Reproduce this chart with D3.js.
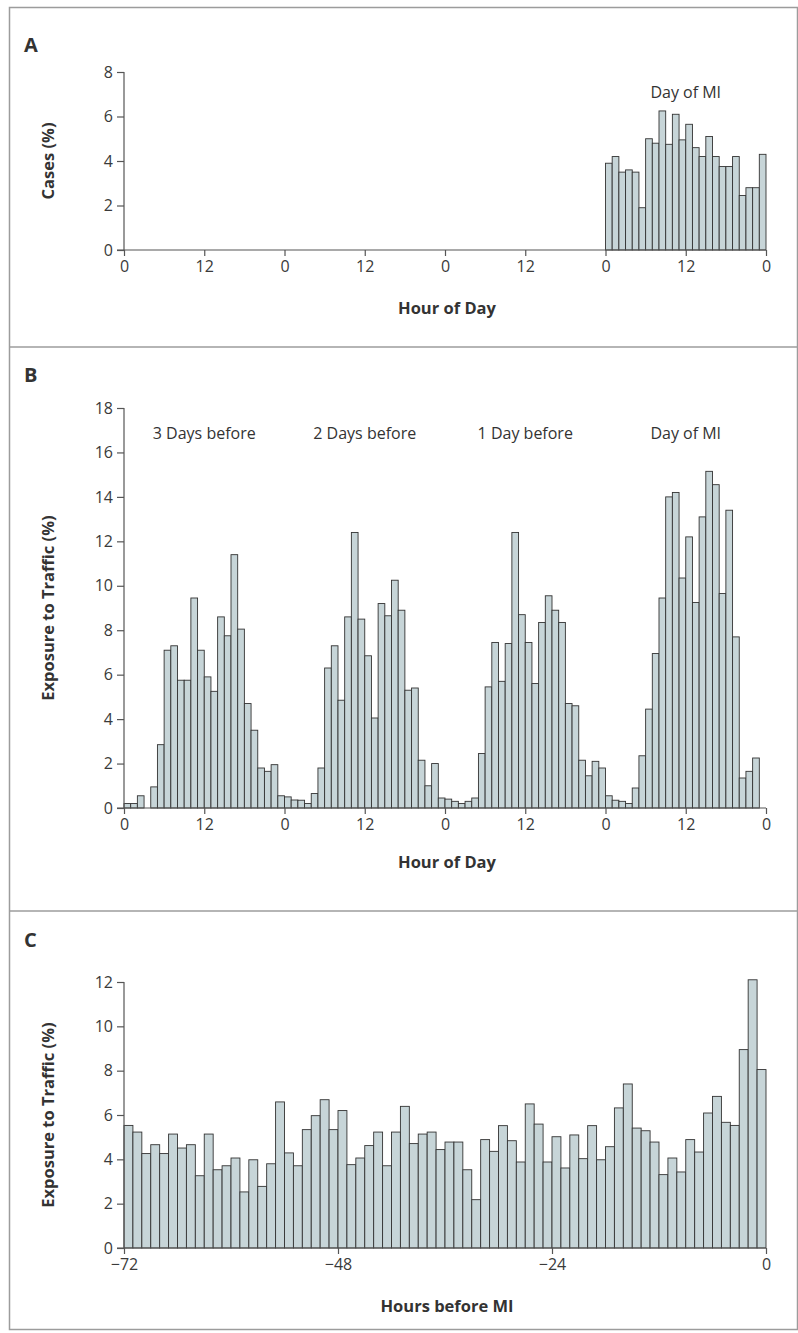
<!DOCTYPE html>
<html>
<head>
<meta charset="utf-8">
<script src="https://cdn.jsdelivr.net/npm/d3@7"></script>
<style>
  body { margin: 0; background: #fff; }
  text { font-family: "Open Sans", "Noto Sans", sans-serif; fill: #333; }
  .axis path, .axis line { stroke: #555; stroke-width: 1.2; }
  .axis text { font-size: 16px; fill: #3a3a3a; }
</style>
</head>
<body>
<div id="chart"></div>
<script>
// data (percent per hour)
var casesDayOfMI = [3.9, 4.2, 3.5, 3.6, 3.5, 1.9, 5.0, 4.8, 6.25, 4.75, 6.1, 4.95, 5.65, 4.6, 4.2, 5.1, 4.2, 3.75, 3.75, 4.2, 2.45, 2.8, 2.8, 4.3];

var exposure3DaysBefore = [0.2, 0.2, 0.55, 0, 0.95, 2.85, 7.1, 7.3, 5.75, 5.75, 9.45, 7.1, 5.9, 5.25, 8.6, 7.75, 11.4, 8.05, 4.7, 3.5, 1.8, 1.65, 1.95, 0.55];
var exposure2DaysBefore = [0.5, 0.36, 0.35, 0.2, 0.65, 1.8, 6.3, 7.3, 4.85, 8.6, 12.4, 8.5, 6.85, 4.05, 9.2, 8.65, 10.25, 8.9, 5.3, 5.4, 2.15, 1.0, 2.0, 0.45];
var exposure1DayBefore = [0.4, 0.3, 0.2, 0.3, 0.45, 2.45, 5.45, 7.45, 5.7, 7.4, 12.4, 8.7, 7.45, 5.6, 8.35, 9.55, 8.9, 8.35, 4.7, 4.6, 2.15, 1.45, 2.1, 1.8];
var exposureDayOfMI = [0.55, 0.35, 0.3, 0.2, 0.9, 2.35, 4.45, 6.95, 9.45, 14.0, 14.2, 10.35, 12.2, 9.25, 13.1, 15.15, 14.55, 9.65, 13.4, 7.7, 1.35, 1.65, 2.25, 0];

// hours -72 .. -1 before MI
var exposureBeforeMI = [5.53, 5.23, 4.26, 4.66, 4.26, 5.14, 4.51, 4.66, 3.26, 5.14,
  3.53, 3.71, 4.06, 2.53, 3.98, 2.78, 3.8, 6.59, 4.29, 3.71,
  5.34, 5.97, 6.69, 5.34, 6.2, 3.76, 4.06, 4.62, 5.23, 3.71,
  5.23, 6.39, 4.71, 5.14, 5.23, 4.44, 4.78, 4.78, 3.53, 2.18,
  4.89, 4.36, 5.52, 4.84, 3.88, 6.5, 5.59, 3.88, 5.02, 3.61,
  5.1, 4.03, 5.52, 3.98, 4.57, 6.32, 7.4, 5.41, 5.29, 4.78,
  3.31, 4.06, 3.43, 4.89, 4.33, 6.09, 6.84, 5.67, 5.53, 8.95,
  12.1, 8.05];

var dayLabels = ["3 Days before", "2 Days before", "1 Day before", "Day of MI"];
var hourTicks = [0, 12, 24, 36, 48, 60, 72, 84, 96];
var beforeTicks = [-72, -48, -24, 0];
var ticksA = [0, 2, 4, 6, 8];
var ticksB = [0, 2, 4, 6, 8, 10, 12, 14, 16, 18];
var ticksC = [0, 2, 4, 6, 8, 10, 12];

var W = 798, H = 1333;
var left = 124, right = 766;
var barFill = "#c7d5d8", barStroke = "#333";

var svg = d3.select("#chart").append("svg")
  .attr("width", W)
  .attr("height", H);

// frame and panel dividers
svg.append("rect")
  .attr("x", 9.5).attr("y", 7.5)
  .attr("width", 788).attr("height", 1322)
  .attr("fill", "none").attr("stroke", "#9c9c9c").attr("stroke-width", 1.5);
[347, 911].forEach(function(yy) {
  svg.append("line")
    .attr("x1", 9.5).attr("x2", 798)
    .attr("y1", yy).attr("y2", yy)
    .attr("stroke", "#9c9c9c").attr("stroke-width", 1.5);
});

// generic panel
function drawPanel(o) {
  var x = d3.scaleLinear().domain(o.xDomain).range([left, right]);
  var y = d3.scaleLinear().domain(o.yDomain).range([o.y0, o.y1]);

  svg.append("g")
    .selectAll("rect")
    .data(o.values)
    .enter().append("rect")
    .attr("x", function(d, i) { return x(o.xStart + i); })
    .attr("width", function(d, i) { return x(o.xStart + i + 1) - x(o.xStart + i); })
    .attr("y", function(d) { return y(d); })
    .attr("height", function(d) { return y(0) - y(d); })
    .attr("fill", barFill)
    .attr("stroke", barStroke)
    .attr("stroke-width", 0.9)
    .style("display", function(d) { return d > 0 ? null : "none"; });

  var xAxis = d3.axisBottom(x)
    .tickValues(o.xTicks)
    .tickSize(6)
    .tickPadding(5)
    .tickFormat(o.xFormat);
  svg.append("g")
    .attr("class", "axis")
    .attr("transform", "translate(0," + y(0) + ")")
    .call(xAxis)
    .call(function(g) { g.select(".domain").attr("d", "M" + (left - 7) + ",0H" + right); });

  var yAxis = d3.axisLeft(y)
    .tickValues(o.yTicks)
    .tickSize(7)
    .tickPadding(4)
    .tickFormat(d3.format("d"));
  svg.append("g")
    .attr("class", "axis")
    .attr("transform", "translate(" + left + ",0)")
    .call(yAxis)
    .call(function(g) { g.select(".domain").attr("d", "M0," + o.y0 + "V" + o.y1); });

  // y title
  svg.append("text")
    .attr("transform", "translate(54," + ((o.y0 + o.y1) / 2) + ") rotate(-90)")
    .attr("text-anchor", "middle")
    .attr("font-size", "16.5px")
    .attr("font-weight", "bold")
    .text(o.yTitle);

  // x title
  svg.append("text")
    .attr("x", (left + right) / 2 + 2)
    .attr("y", o.xTitleY)
    .attr("text-anchor", "middle")
    .attr("font-size", "16.5px")
    .attr("font-weight", "bold")
    .text(o.xTitle);

  // panel letter
  svg.append("text")
    .attr("x", 24)
    .attr("y", o.letterY)
    .attr("font-size", "20px")
    .attr("font-weight", "bold")
    .text(o.letter);

  return x;
}

var hourFormat = function(d) { return d % 24; };
var negFormat = function(d) { return d < 0 ? "\u2212" + Math.abs(d) : d; };

// A
var xA = drawPanel({
  values: casesDayOfMI, xStart: 72, xDomain: [0, 96], xTicks: hourTicks, xFormat: hourFormat,
  yDomain: [0, 8], yTicks: ticksA, y0: 250, y1: 72,
  yTitle: "Cases (%)", xTitle: "Hour of Day", xTitleY: 314, letter: "A", letterY: 52
});
svg.append("text")
  .attr("x", xA(84)).attr("y", 98)
  .attr("text-anchor", "middle")
  .attr("font-size", "16px")
  .text(dayLabels[3]);

// B
var exposureB = exposure3DaysBefore.concat(exposure2DaysBefore, exposure1DayBefore, exposureDayOfMI);
var xB = drawPanel({
  values: exposureB, xStart: 0, xDomain: [0, 96], xTicks: hourTicks, xFormat: hourFormat,
  yDomain: [0, 18], yTicks: ticksB, y0: 808, y1: 408,
  yTitle: "Exposure to Traffic (%)", xTitle: "Hour of Day", xTitleY: 868, letter: "B", letterY: 382
});
svg.append("g")
  .selectAll("text")
  .data(dayLabels)
  .enter().append("text")
  .attr("x", function(d, i) { return xB(i * 24 + 12); })
  .attr("y", 439)
  .attr("text-anchor", "middle")
  .attr("font-size", "16px")
  .text(function(d) { return d; });

// C
drawPanel({
  values: exposureBeforeMI, xStart: -72, xDomain: [-72, 0], xTicks: beforeTicks, xFormat: negFormat,
  yDomain: [0, 12], yTicks: ticksC, y0: 1248, y1: 982,
  yTitle: "Exposure to Traffic (%)", xTitle: "Hours before MI", xTitleY: 1312, letter: "C", letterY: 947
});
</script>
</body>
</html>
